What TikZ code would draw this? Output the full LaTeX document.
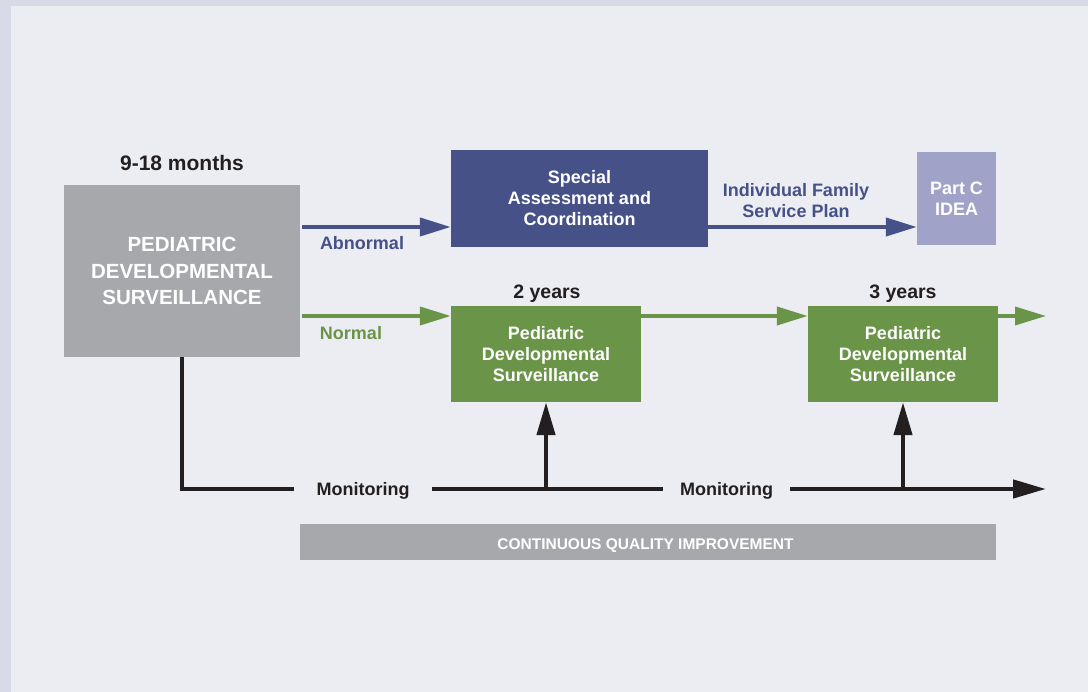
\documentclass[tikz,border=0pt]{standalone}
\usepackage{fontspec}
\setmainfont{Liberation Sans}
\usetikzlibrary{arrows.meta,calc}

\definecolor{frameC}{HTML}{D8DAE7}
\definecolor{paperC}{HTML}{ECEDF2}
\definecolor{greyC}{HTML}{A7A8AB}
\definecolor{navyC}{HTML}{465187}
\definecolor{lilacC}{HTML}{A0A3C7}
\definecolor{greenC}{HTML}{6A9447}
\definecolor{inkC}{HTML}{231F20}

\tikzset{
  box/.style={rectangle, inner sep=0pt, align=center, text=white,
    font=\fontsize{18pt}{21pt}\selectfont\bfseries},
  lbl/.style={inner sep=0pt, align=center,
    font=\fontsize{18pt}{21pt}\selectfont\bfseries},
  head/.style={inner sep=0pt, text=inkC,
    font=\fontsize{21pt}{24pt}\selectfont\bfseries},
  navyarrow/.style={draw=navyC, line width=4pt,
    -{Triangle[length=31pt,width=18pt]}, navyC},
  greenarrow/.style={draw=greenC, line width=4pt,
    -{Triangle[length=31pt,width=18pt]}, greenC},
  inkline/.style={draw=inkC, line width=4.5pt},
  inkarrow/.style={inkline, -{Triangle[length=33pt,width=18pt]}, inkC},
}

\begin{document}
\begin{tikzpicture}[x=1pt,y=-1pt]
  \useasboundingbox (0,0) rectangle (1088,692);
  % page backdrop
  \fill[frameC] (0,0) rectangle (1088,692);
  \fill[paperC] (11,6) rectangle (1088,692);

  % boxes
  \node[box, fill=greyC, minimum width=236pt, minimum height=172pt,
        font=\fontsize{20.5pt}{26.5pt}\selectfont\bfseries]
    (pds) at (182,271) {PEDIATRIC\\DEVELOPMENTAL\\SURVEILLANCE};
  \node[box, fill=navyC, minimum width=257pt, minimum height=97pt]
    (sac) at (579.5,198.5) {Special\\Assessment and\\Coordination};
  \node[box, fill=lilacC, minimum width=79pt, minimum height=93pt]
    (idea) at (956.5,198.5) {Part C\\IDEA};
  \node[box, fill=greenC, minimum width=190pt, minimum height=96pt]
    (pds2) at (546,354) {Pediatric\\Developmental\\Surveillance};
  \node[box, fill=greenC, minimum width=190pt, minimum height=96pt]
    (pds3) at (903,354) {Pediatric\\Developmental\\Surveillance};
  \node[box, fill=greyC, minimum width=696pt, minimum height=36pt]
    (cqi) at (648,542) {};
  \node[box, font=\fontsize{15.5pt}{18pt}\selectfont\bfseries]
    (cqitext) at (645.5,546) {CONTINUOUS QUALITY IMPROVEMENT};

  % headings
  \node[head] (age1) at (182,163) {9-18 months};
  \node[head, font=\fontsize{19.5pt}{23pt}\selectfont\bfseries] (age2) at (547,293.5) {2 years};
  \node[head, font=\fontsize{19.5pt}{23pt}\selectfont\bfseries] (age3) at (903,293.5) {3 years};

  % branch labels
  \node[lbl, text=navyC] (abn) at (362,243) {Abnormal};
  \node[lbl, text=greenC] (nor) at (351,333) {Normal};
  \node[lbl, text=navyC] (ifsp) at (796,201) {Individual Family\\Service Plan};

  % abnormal branch
  \coordinate (ab) at (302,227);
  \draw[navyarrow] (ab) -- (ab -| sac.west);
  \draw[navyarrow] (ab -| sac.east) -- (ab -| idea.west);

  % normal branch
  \coordinate (nm) at (302,316);
  \coordinate (nmend) at (1046,316);
  \draw[greenarrow] (nm) -- (nm -| pds2.west);
  \draw[greenarrow] (nm -| pds2.east) -- (nm -| pds3.west);
  \draw[greenarrow, line width=3.5pt] (nm -| pds3.east) -- (nmend);

  % monitoring line
  \node[lbl, text=inkC, inner xsep=22.5pt] (mon1) at (363,491) {Monitoring};
  \node[lbl, text=inkC, inner xsep=17pt] (mon2) at (726.5,491) {Monitoring};
  \coordinate (monend) at (1046,489);
  \draw[inkline] (pds.south) |- (monend -| mon1.west);
  \draw[inkline] (monend -| mon1.east) -- (monend -| mon2.west);
  \draw[inkarrow] (monend -| mon2.east) -- (monend);
  \draw[inkarrow] (monend -| pds2.south) -- (pds2.south);
  \draw[inkarrow] (monend -| pds3.south) -- (pds3.south);
\end{tikzpicture}
\end{document}
